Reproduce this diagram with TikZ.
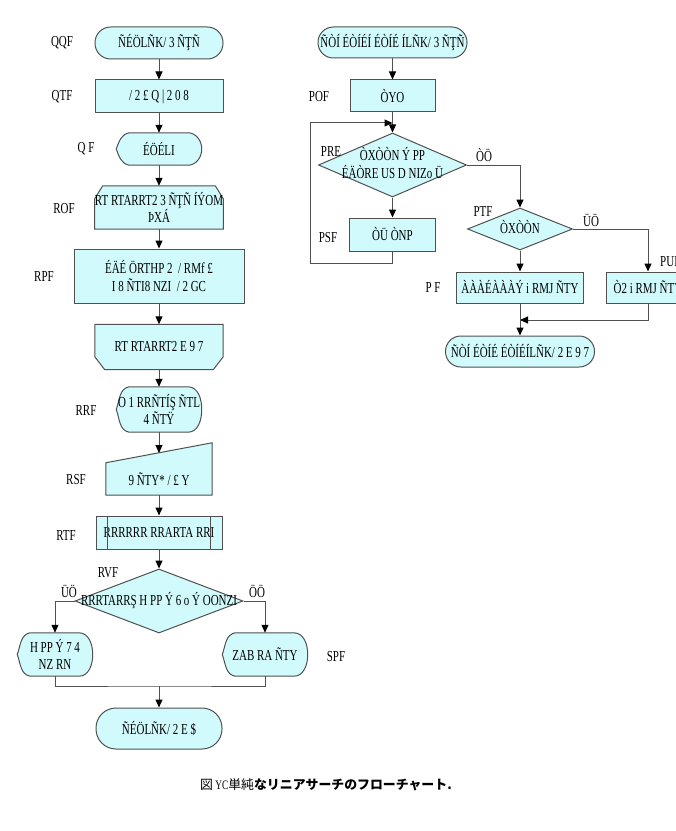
\documentclass[tikz,border=0pt]{standalone}
\usepackage{fontspec}
\setmainfont{Liberation Serif}[FakeStretch=0.72]
\newfontfamily\cjk{Noto Sans CJK JP}
\usetikzlibrary{arrows.meta,calc,shapes.geometric,backgrounds}

\definecolor{boxfill}{RGB}{208,250,252}
\definecolor{boxline}{RGB}{80,80,80}

% text that takes no room in a diamond
\newcommand{\nosize}[1]{\smash{\makebox[0pt]{\raisebox{-0.25em}{\begin{tabular}{@{}c@{}}#1\end{tabular}}}}}
% outlines drawn round a plain node
\newcommand{\dispshape}[1]{\draw[box] ($(#1.north west)+(13,0)$) to[out=190,in=70] (#1.west) to[out=-70,in=170] ($(#1.south west)+(13,0)$) -- ($(#1.south east)+(-14,0)$) to[out=0,in=-90] (#1.east) to[out=90,in=0] ($(#1.north east)+(-14,0)$) -- cycle;}
\newcommand{\looptop}[1]{\draw[box] (#1.south west) -- ($(#1.north west)+(0,-13)$) -- ($(#1.north west)+(8,0)$) -- ($(#1.north east)+(-8,0)$) -- ($(#1.north east)+(0,-13)$) -- (#1.south east) -- cycle;}
\newcommand{\loopbot}[1]{\draw[box] (#1.north west) -- ($(#1.south west)+(0,13)$) -- ($(#1.south west)+(10,0)$) -- ($(#1.south east)+(-10,0)$) -- ($(#1.south east)+(0,13)$) -- (#1.north east) -- cycle;}
\newcommand{\manshape}[1]{\draw[box] (#1.south west) -- (#1.north west) -- ($(#1.north east)+(0,20)$) -- (#1.south east) -- cycle;}

\begin{document}
\begin{tikzpicture}[x=0.3mm,y=0.3mm,
	every node/.style={font=\fontsize{13}{15}\selectfont},
	wh/.style 2 args={minimum width=#1*0.3mm,minimum height=#2*0.3mm},
	box/.style={draw=boxline,fill=boxfill,line width=0.3mm},
	term/.style={box,rectangle,rounded corners=4.7mm,inner sep=0pt,align=center},
	proc/.style={box,rectangle,inner sep=0pt,align=center},
	ghost/.style={rectangle,inner sep=0pt,align=center},
	decide/.style={box,diamond,inner sep=0pt,align=center},
	tag/.style={inner sep=0pt},
	link/.style={draw=boxline,line width=0.3mm},
	arr/.style={link,-{Triangle[length=2.4mm,width=2.1mm,color=black]}}]

	\useasboundingbox (0,0) rectangle (675,-831);

	%left chart
	\node[term,wh={128}{32}] (t1) at (159,-43) {ÑÉÖLÑK/ 3 ÑŢÑ};
	\node[proc,wh={128}{33}] (p1) at (159,-96.5) {/ 2 £ Q | 2 0 8};
	\node[ghost,wh={85}{32}] (d1) at (159,-149) {ÉÖÉLI};
	\node[ghost,wh={128}{43}] (l1) at (159,-207.5) {RT RTARRT2 3 ÑŢÑ ÍÝOM\\ÞXÁ};
	\node[proc,wh={170}{54}] (p2) at (159,-276) {ÉÄÉ ÖRTHP 2 \ / RMf £\\I 8 ÑTI8 NZI \ / 2 GC};
	\node[ghost,wh={128}{45}] (l2) at (159,-347) {RT RTARRT2 E 9 7};
	\node[ghost,wh={85}{45}] (d2) at (159,-409.5) {O 1 RRÑTÍŞ ÑTL\\4 ÑTŸ};
	\node[ghost,wh={106}{32}] (m1) at (159,-479) {9 ÑTY* / £ Y};
	\coordinate (mtop) at (159,-453);
	\node[proc,wh={126}{33}] (pd) at (159,-532.5) {RRRRRR RRARTA RRI};
	\node[decide,wh={168}{64}] (dm) at (159,-601) {\nosize{RRRTARRŞ H PP Ý 6 o Ý OONZI}};
	\node[ghost,wh={75}{43}] (dl) at (55,-654.5) {H PP Ý 7 4\\NZ RN};
	\node[ghost,wh={85}{43}] (dr) at (265,-654.5) {ZAB RA ÑTY};
	\coordinate (join) at (159,-686);
	\node[term,wh={126}{41},rounded corners=6mm] (t2) at (159,-728.5) {ÑÉÖLÑK/ 2 E \$};

	\begin{scope}[on background layer]
		\dispshape{d1}
		\looptop{l1}
		\loopbot{l2}
		\dispshape{d2}
		\manshape{m1}
		\dispshape{dl}
		\dispshape{dr}
	\end{scope}
	\draw[link] ($(pd.north west)+(12,0)$) -- ($(pd.south west)+(12,0)$);
	\draw[link] ($(pd.north east)+(-12,0)$) -- ($(pd.south east)+(-12,0)$);

	\draw[arr] (t1) -- (p1);
	\draw[arr] (p1) -- (d1);
	\draw[arr] (d1) -- (l1);
	\draw[arr] (l1) -- (p2);
	\draw[arr] (p2) -- (l2);
	\draw[arr] (l2) -- (d2);
	\draw[arr] (d2) -- (mtop);
	\draw[arr] (m1) -- (pd);
	\draw[arr] (pd) -- (dm);
	\draw[arr] (dm.west) -| (dl.north);
	\draw[arr] (dm.east) -| (dr.north);
	\draw[link] (dl.south) |- (join) -| (dr.south);
	\draw[arr] (join) -- (t2);

	\node[tag] (sqqf) at (62,-43) {QQF};
	\node[tag] (sqtf) at (62,-97) {QTF};
	\node[tag] (sqf) at (86,-149) {Q F};
	\node[tag] (srof) at (64,-209) {ROF};
	\node[tag] (srpf) at (44,-277) {RPF};
	\node[tag] (srrf) at (86,-411) {RRF};
	\node[tag] (srsf) at (76,-480) {RSF};
	\node[tag] (srtf) at (66,-536) {RTF};
	\node[tag] (srvf) at (108,-573) {RVF};
	\node[tag] (sno) at (69,-591) {ÜÖ};
	\node[tag] (syes) at (257,-591) {ÖÖ};
	\node[tag] (sspf) at (336,-657) {SPF};

	%right chart
	\node[term,wh={149}{31},rounded corners=4.6mm] (ta) at (392.5,-42.5) {ÑÒÍ ÉÒÍÉÍ ÉÒÍÉ ÍLÑK/ 3 ÑŢÑ};
	\node[proc,wh={85}{32}] (pb) at (392.5,-96) {ÒYO};
	\node[decide,wh={148}{64}] (dc) at (392.5,-165) {\nosize{ÒXÒÒN Ý PP\\ÉÄÒRE US D NIZo Ü}};
	\node[proc,wh={86}{33}] (pe) at (392.5,-234.5) {ÒÜ ÒNP};
	\coordinate (lpa) at (310,-263);
	\coordinate (lpb) at (392.5,-123);
	\node[decide,wh={105}{42}] (df) at (520,-229) {\nosize{ÒXÒÒN}};
	\node[proc,wh={127}{31}] (g) at (520,-287.5) {ÀÀÀÉÀÀÀÝ i RMJ ÑTY};
	\node[proc,wh={84}{31}] (h) at (648,-287.5) {Ò2 i RMJ ÑTY};
	\coordinate (rjoin) at (520,-320);
	\node[term,wh={149}{31},rounded corners=4.6mm] (j) at (520,-351.5) {ÑÒÍ ÉÒÍÉ ÉÒÍÉÍLÑK/ 2 E 9 7};

	\draw[arr] (ta) -- (pb);
	\draw[arr] (pb) -- (dc);
	\draw[arr] (dc) -- (pe);
	\draw[arr] (pe.south) |- (lpa) |- (lpb);
	\draw[arr] (dc.east) -| (df.north);
	\draw[arr] (df) -- (g);
	\draw[arr] (df.east) -| (h.north);
	\draw[arr] (h.south) |- (rjoin);
	\draw[arr] (g) -- (j);

	\node[tag] (spof) at (319,-97) {POF};
	\node[tag] (spre) at (331,-152) {PRE};
	\node[tag] (syes2) at (484,-155) {ÒÖ};
	\node[tag] (spsf) at (328,-238) {PSF};
	\node[tag] (sptf) at (483,-212) {PTF};
	\node[tag] (sno2) at (591,-220) {ÜÖ};
	\node[tag] (spf) at (433,-288) {P F};
	\node[tag,anchor=west] (spuf) at (660,-262) {PUF};

	\node[tag,font=\fontsize{11}{13}\selectfont] (cap) at (326,-785) {{\cjk 図} YC{\cjk 単純\bfseries なリニアサーチのフローチャート.}};

\end{tikzpicture}
\end{document}
